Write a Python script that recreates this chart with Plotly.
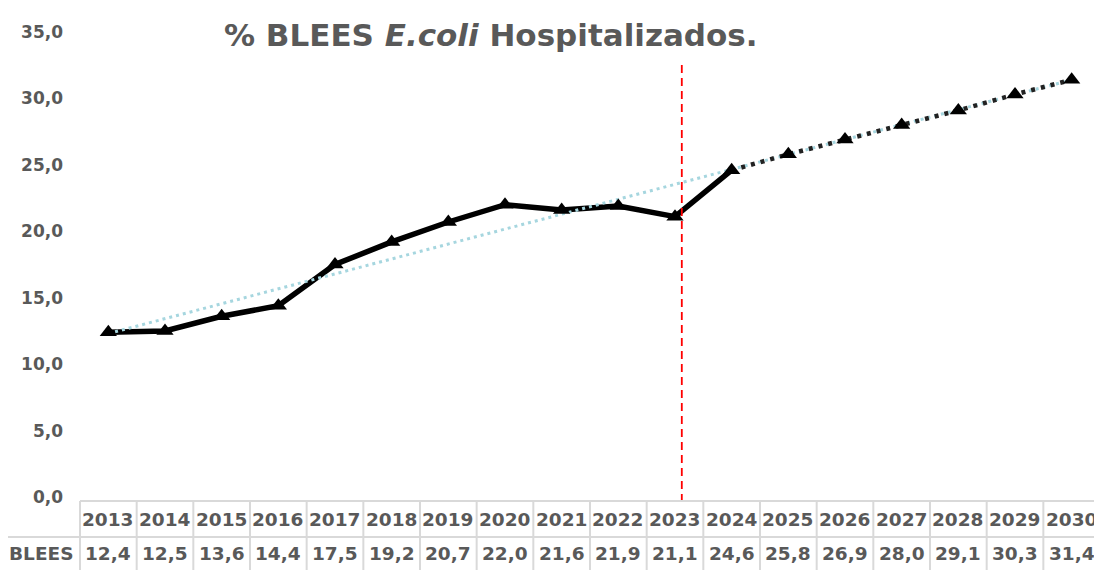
import plotly.graph_objects as go

years = ["2013", "2014", "2015", "2016", "2017", "2018", "2019", "2020", "2021",
         "2022", "2023", "2024", "2025", "2026", "2027", "2028", "2029", "2030"]
blees = [12.4, 12.5, 13.6, 14.4, 17.5, 19.2, 20.7, 22.0, 21.6,
         21.9, 21.1, 24.6, 25.8, 26.9, 28.0, 29.1, 30.3, 31.4]
hist_end = 12          # observed series runs 2013..2024 (solid)
forecast_start = 11    # projected series runs 2024..2030 (dotted)
trend_x = [0, 17]
trend_values = [12.3, 31.4]
row_label = "BLEES"
title_html = "% BLEES <i>E.coli</i> Hospitalizados."
ytick_vals = [0, 5, 10, 15, 20, 25, 30, 35]

GRAY = "#595959"
FONT = "DejaVu Sans, Liberation Sans, Arial, sans-serif"

OFF = 8                       # page body margin
W, H = 1102 - OFF, 570 - OFF
L, R, T, B = 80 - OFF, 2, 32 - OFF, 73
PW, PH = W - L - R, H - T - B


def py(p):  # reference pixel y -> paper y
    return (H - B - (p - OFF)) / PH


def px(p):  # reference pixel x -> paper x
    return ((p - OFF) - L) / PW


xi = list(range(len(years)))
fig = go.Figure()

fig.add_trace(go.Scatter(
    x=xi[:hist_end], y=blees[:hist_end], mode="lines",
    line=dict(color="black", width=5.5),
    showlegend=False, hoverinfo="skip"))
fig.add_trace(go.Scatter(
    x=trend_x, y=trend_values, mode="lines",
    line=dict(color="#a6d6df", width=3, dash="3px,4px"),
    showlegend=False, hoverinfo="skip"))
fig.add_trace(go.Scatter(
    x=xi[forecast_start:], y=blees[forecast_start:], mode="lines",
    line=dict(color="#222222", width=4.5, dash="4px,6px"),
    showlegend=False, hoverinfo="skip"))
fig.add_trace(go.Scatter(
    x=xi, y=blees, mode="markers",
    marker=dict(symbol="triangle-up", size=15, color="black"),
    showlegend=False, hoverinfo="skip"))

shapes = []
# red dashed separator
shapes.append(dict(type="line", xref="x", yref="paper", x0=10.12, x1=10.12,
                   y0=py(502), y1=py(60),
                   line=dict(color="#ff0000", width=1.8, dash="8px,5px")))
# table grid
GRID = "#d9d9d9"
n = len(years)
shapes.append(dict(type="line", xref="paper", yref="paper", x0=0, x1=1,
                   y0=py(501), y1=py(501), line=dict(color=GRID, width=2)))
shapes.append(dict(type="line", xref="paper", yref="paper", x0=px(0), x1=1,
                   y0=py(537), y1=py(537), line=dict(color=GRID, width=2)))
for k in range(n + 1):
    shapes.append(dict(type="line", xref="paper", yref="paper", x0=k / n, x1=k / n,
                       y0=py(501), y1=py(575), line=dict(color=GRID, width=2)))

annotations = []
annotations.append(dict(xref="paper", yref="paper", x=px(491), y=py(35),
                        text=title_html, showarrow=False, xanchor="center", yanchor="middle",
                        font=dict(family=FONT, size=31, color=GRAY, weight="bold")))
for i, (yr, v) in enumerate(zip(years, blees)):
    annotations.append(dict(xref="x", yref="paper", x=i, y=py(519), text=yr,
                            showarrow=False, xanchor="center", yanchor="middle",
                            font=dict(family=FONT, size=18.5, color=GRAY, weight="bold")))
    annotations.append(dict(xref="x", yref="paper", x=i, y=py(553),
                            text=f"{v:.1f}".replace(".", ","),
                            showarrow=False, xanchor="center", yanchor="middle",
                            font=dict(family=FONT, size=18.5, color=GRAY, weight="bold")))
annotations.append(dict(xref="paper", yref="paper", x=px(76), y=py(553), text=row_label,
                        showarrow=False, xanchor="right", yanchor="middle",
                        font=dict(family=FONT, size=18.5, color=GRAY, weight="bold")))

fig.update_layout(
    width=W, height=H,
    margin=dict(l=L, r=R, t=T, b=B),
    paper_bgcolor="white", plot_bgcolor="white",
    separators=",.",
    shapes=shapes, annotations=annotations,
    xaxis=dict(range=[-0.5, n - 0.5], showticklabels=False, showgrid=False,
               zeroline=False, showline=False, ticks=""),
    yaxis=dict(range=[0, 35], tickvals=ytick_vals, tickformat=".1f",
               showgrid=False, zeroline=False, showline=False, ticks="",
               ticklabelstandoff=16,
               tickfont=dict(family=FONT, size=17, color=GRAY, weight="bold")),
)

fig.write_html("out.html")
